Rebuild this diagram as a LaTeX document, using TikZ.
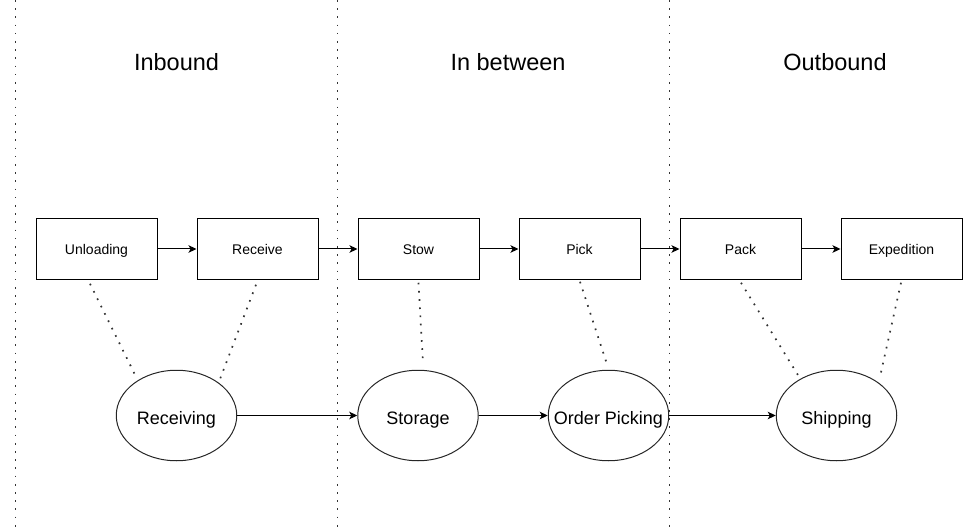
\documentclass[tikz,border=0pt]{standalone}
\usepackage{fontspec}
\setmainfont{Liberation Sans}
\usetikzlibrary{arrows.meta,shapes.geometric,calc}

\tikzset{
  stepbox/.style={draw=black, line width=1pt, minimum width=121pt, minimum height=60.5pt,
    inner sep=0pt, text height=14pt, text depth=3pt, font=\fontsize{14}{16}\selectfont},
  phase/.style={draw=black!85, line width=1pt, ellipse, minimum width=120.5pt, minimum height=90.5pt,
    inner sep=0pt},
  phasetext/.style={inner sep=0pt, text height=20pt, text depth=3pt, font=\fontsize{18}{21}\selectfont},
  heading/.style={anchor=base, inner sep=0pt, font=\fontsize{23.5}{28}\selectfont},
  flow/.style={line width=1pt, -{Stealth[length=8pt,width=7.5pt,inset=2pt]}},
  dotline/.style={line width=1.7pt, black!80, dash pattern=on 1.7pt off 6.5pt},
}

\begin{document}
\begin{tikzpicture}[x=1pt,y=1pt]
  \useasboundingbox (0,0) rectangle (971,-529);

  % lane separators
  \coordinate (s1t) at (15.5,0);    \coordinate (s1b) at (15.5,-529);
  \coordinate (s2t) at (337.5,0);   \coordinate (s2b) at (337.5,-529);
  \coordinate (s3t) at (669.5,0);   \coordinate (s3b) at (669.5,-529);
  \draw[dotline] (s1t) -- (s1b);
  \draw[dotline] (s2t) -- (s2b);
  \draw[dotline] (s3t) -- (s3b);

  % lane titles
  \node[heading] (hin)  at (176.5,-71) {Inbound};
  \node[heading] (hmid) at (508,-71)   {In between};
  \node[heading] (hout) at (835,-71)   {Outbound};

  % process steps
  \node[stepbox] (unload) at (96.5,-249)  {Unloading};
  \node[stepbox] (receive) at (257.5,-249) {Receive};
  \node[stepbox] (stow)   at (418.5,-249) {Stow};
  \node[stepbox] (pick)   at (579.5,-249) {Pick};
  \node[stepbox] (pack)   at (740.5,-249) {Pack};
  \node[stepbox] (exped)  at (901.5,-249) {Expedition};

  % warehouse functions (fixed-size ellipses, text set as a centred label)
  \node[phase, label={[phasetext]center:Receiving}]     (recv)  at (176.5,-415.5) {};
  \node[phase, label={[phasetext]center:Storage}]       (stor)  at (418,-415.5)   {};
  \node[phase, label={[phasetext]center:Order Picking}] (opick) at (608.5,-415.5) {};
  \node[phase, label={[phasetext]center:Shipping}]      (ship)  at (836.5,-415.5) {};

  % step sequence
  \draw[flow] (unload) -- (receive);
  \draw[flow] (receive) -- (stow);
  \draw[flow] (stow) -- (pick);
  \draw[flow] (pick) -- (pack);
  \draw[flow] (pack) -- (exped);

  % function sequence
  \draw[flow] (recv) -- (stor);
  \draw[flow] (stor) -- (opick);
  \draw[flow] (opick) -- (ship);

  % steps belonging to each function
  \draw[dotline] ($(unload.south)+(-6.5,-4)$) -- ($(recv.north)+(-40.5,-7)$);
  \draw[dotline] ($(receive.south)+(-1.5,-5)$) -- ($(recv.north)+(42.5,-12)$);
  \draw[dotline] ($(stow.south)+(0,-3)$) -- ($(stor.north)+(5,6)$);
  \draw[dotline] ($(pick.south)+(0.5,-2)$) -- ($(opick.north)+(-1,4)$);
  \draw[dotline] ($(pack.south)+(0.5,-3)$) -- ($(ship.north)+(-37.5,-7)$);
  \draw[dotline] ($(exped.south)+(-0.5,-3)$) -- ($(ship.north)+(43.5,-7)$);
\end{tikzpicture}
\end{document}
